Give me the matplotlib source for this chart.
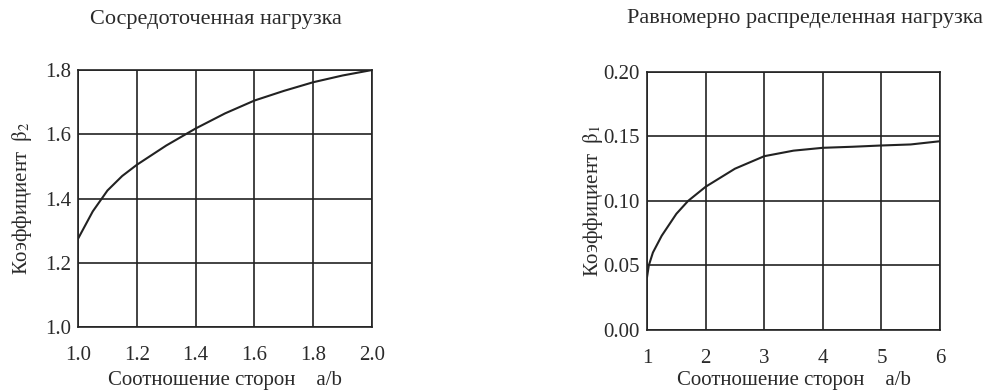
import matplotlib.pyplot as plt

plt.rcParams["font.family"] = ["Liberation Serif", "DejaVu Serif"]
plt.rcParams["mathtext.fontset"] = "stix"

# concentrated load
x_conc = [1.0, 1.05, 1.1, 1.15, 1.2, 1.3, 1.4, 1.5, 1.6, 1.7, 1.8, 1.9, 2.0]
b2 = [1.275, 1.36, 1.425, 1.47, 1.505, 1.565, 1.618, 1.665, 1.705, 1.735, 1.762, 1.783, 1.80]

# uniformly distributed load
x_unif = [1.0, 1.03, 1.1, 1.25, 1.5, 1.7, 2.0, 2.5, 3.0, 3.5, 4.0, 4.5, 5.0, 5.5, 6.0]
b1 = [0.041, 0.05, 0.06, 0.073, 0.09, 0.10, 0.111, 0.125, 0.1347, 0.139, 0.1412, 0.142, 0.143, 0.1438, 0.1463]

txt = "#2a2a2a"

fig = plt.figure(figsize=(10.01, 3.9), dpi=100)
ax1 = fig.add_axes([0.078, 0.1615, 0.2937, 0.659])
ax2 = fig.add_axes([0.6464, 0.154, 0.2927, 0.6615])

ax1.plot(x_conc, b2, color="#222222", lw=1.5)
ax1.set_xlim(1.0, 2.0)
ax1.set_ylim(1.0, 1.8)
ax1.set_xticks([1.0, 1.2, 1.4, 1.6, 1.8, 2.0])
ax1.set_yticks([1.0, 1.2, 1.4, 1.6, 1.8])
ax1.set_title("Сосредоточенная нагрузка", fontsize=16, pad=33, x=0.47, color=txt)
ax1.set_ylabel(r"Коэффициент  $\mathrm{\beta}_2$", fontsize=15, labelpad=8, color=txt)
ax1.set_xlabel("Соотношение сторон    a/b", fontsize=15, labelpad=4, color=txt)

ax2.plot(x_unif, b1, color="#222222", lw=1.5)
ax2.set_xlim(1, 6)
ax2.set_ylim(0.0, 0.2)
ax2.set_xticks([1, 2, 3, 4, 5, 6])
ax2.set_yticks([0.0, 0.05, 0.10, 0.15, 0.20])
ax2.set_yticklabels(["0.00", "0.05", "0.10", "0.15", "0.20"])
ax2.set_title("Равномерно распределенная нагрузка", fontsize=16, pad=35, x=0.54, color=txt)
ax2.set_ylabel(r"Коэффициент  $\mathrm{\beta}_1$", fontsize=15, labelpad=-1, color=txt)
ax2.set_xlabel("Соотношение сторон    a/b", fontsize=15, labelpad=2, color=txt)

for ax in (ax1, ax2):
    ax.grid(True, color="#222222", lw=1.2)
    ax.tick_params(length=0, labelsize=15, colors=txt)
    ax.tick_params(axis="x", pad=14)
    ax.tick_params(axis="y", pad=5)
    for s in ax.spines.values():
        s.set_color("#222222")
        s.set_linewidth(1.2)

fig.savefig("out.png", dpi=100)
